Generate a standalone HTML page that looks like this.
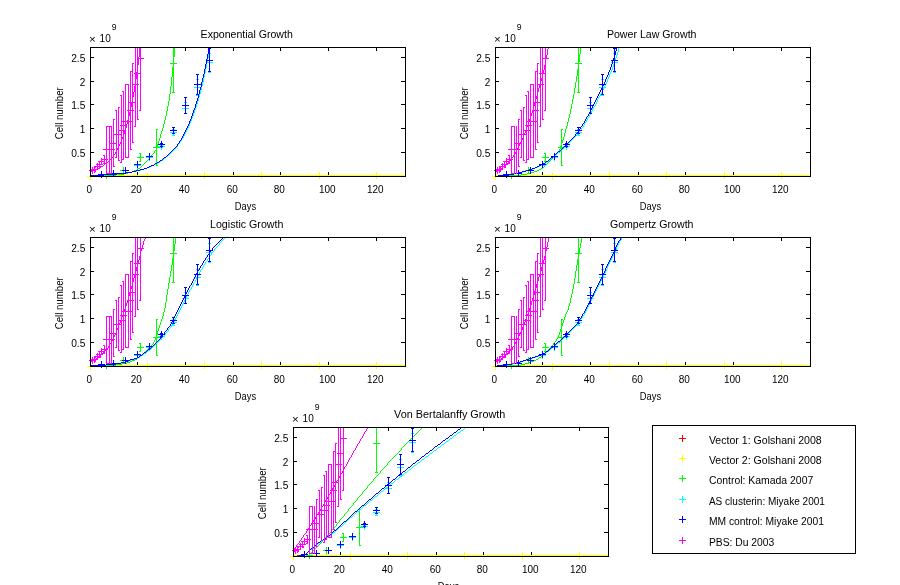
<!DOCTYPE html>
<html><head><meta charset="utf-8"><title>Tumour growth model fits</title>
<style>
html,body{margin:0;padding:0;background:#fff;}
svg{display:block;}
text{font-family:"Liberation Sans",sans-serif;font-size:10px;fill:#000;}
path{shape-rendering:crispEdges;fill:none;stroke-width:1;}
</style></head><body>
<svg width="900" height="585" viewBox="0 0 900 585">
<rect x="0" y="0" width="900" height="585" fill="#fff"/>
<g>
<text x="200.6" y="38.0" textLength="92.2" lengthAdjust="spacingAndGlyphs">Exponential Growth</text>
<text x="234.8" y="209.5" textLength="21.3" lengthAdjust="spacingAndGlyphs">Days</text>
<text transform="translate(63,139.35) rotate(-90)" textLength="52.1" lengthAdjust="spacingAndGlyphs">Cell number</text>
<text x="89" y="43.1" style="font-size:11.5px">×</text>
<text x="99.6" y="42.4">10</text>
<text x="111.8" y="30" style="font-size:8.6px">9</text>
<path stroke="#000" d="M90.5 172v4M90.5 48v3"/>
<text x="89.3" y="193.0" text-anchor="middle">0</text>
<path stroke="#000" d="M137.5 172v4M137.5 48v3"/>
<text x="136.3" y="193.0" text-anchor="middle">20</text>
<path stroke="#000" d="M185.5 172v4M185.5 48v3"/>
<text x="184.3" y="193.0" text-anchor="middle">40</text>
<path stroke="#000" d="M233.5 172v4M233.5 48v3"/>
<text x="232.3" y="193.0" text-anchor="middle">60</text>
<path stroke="#000" d="M280.5 172v4M280.5 48v3"/>
<text x="279.3" y="193.0" text-anchor="middle">80</text>
<path stroke="#000" d="M328.5 172v4M328.5 48v3"/>
<text x="327.3" y="193.0" text-anchor="middle">100</text>
<path stroke="#000" d="M376.5 172v4M376.5 48v3"/>
<text x="375.3" y="193.0" text-anchor="middle">120</text>
<path stroke="#000" d="M91 152.5h3M401 152.5h4"/>
<text x="71.2" y="156.9" textLength="14.2" lengthAdjust="spacingAndGlyphs">0.5</text>
<path stroke="#000" d="M91 128.5h3M401 128.5h4"/>
<text x="79.84" y="132.9">1</text>
<path stroke="#000" d="M91 104.5h3M401 104.5h4"/>
<text x="71.2" y="108.9" textLength="14.2" lengthAdjust="spacingAndGlyphs">1.5</text>
<path stroke="#000" d="M91 81.5h3M401 81.5h4"/>
<text x="79.84" y="85.9">2</text>
<path stroke="#000" d="M91 57.5h3M401 57.5h4"/>
<text x="71.2" y="61.9" textLength="14.2" lengthAdjust="spacingAndGlyphs">2.5</text>
<path stroke="#ffff00" d="M90 175.5h316M87 176.5h7M90.5 173v7M144 176.5h7M147.5 173v7M201 175.5h7M204.5 172v7M258 175.5h7M261.5 172v7M316 175.5h7M319.5 172v7M373 175.5h7M376.5 172v7"/>
<path stroke="#ff0000" d="M94 175.5h2"/>
<path stroke="#00ff00" d="M90 176.5h7M97 175.5h19M116 174.5h8M124 173.5h4M128 172.5h4M132 171.5h2M134 170.5h3M137 169.5h1M138 168.5h2M140 167.5h1M141 166.5h1M142 165.5h1M143 164.5h1M144 163.5h1M145 162.5h1M146 161.5h1M147 160.5h1M148 159.5h1M149 158.5h1M150 157.5h1M151.5 155v2M152 154.5h1M153 153.5h1M154.5 151v2M155 150.5h1M156.5 147v3M157.5 144v3M158.5 141v3M159.5 138v3M160.5 134v4M161.5 131v3M162.5 128v3M163.5 124v4M164.5 120v4M165.5 116v4M166.5 111v5M167.5 106v5M168.5 101v5M169.5 94v7M170.5 86v8M171.5 77v9M172.5 67v10M173.5 57v10M174.5 47v10M103 175.5h7M106.5 172v7M120 170.5h7M123.5 167v7M140.5 153v9M139 153.5h2M139 161.5h2M137 157.5h7M140.5 154v7M156.5 129v37M156 129.5h2M156 165.5h2M153 147.5h7M156.5 144v7M173.5 47v46M172 92.5h3M170 63.5h7M173.5 60v7"/>
<path stroke="#00ffff" d="M90 175.5h15M105 174.5h13M118 173.5h8M126 172.5h6M132 171.5h5M137 170.5h4M141 169.5h3M144 168.5h3M147 167.5h3M150 166.5h2M152 165.5h2M154 164.5h2M156 163.5h2M158 162.5h2M160 161.5h1M161 160.5h2M163 159.5h1M164 158.5h1M165 157.5h1M166 156.5h2M168 155.5h1M169 154.5h1M170 153.5h1M171 152.5h1M172 151.5h1M173 150.5h1M174 149.5h1M175 148.5h1M176 147.5h1M177.5 145v2M178 144.5h1M179.5 142v2M180 141.5h1M181.5 139v2M182 138.5h1M183.5 136v2M184.5 134v2M185.5 132v2M186.5 130v2M187.5 128v2M188.5 126v2M189.5 123v3M190.5 121v2M191.5 118v3M192.5 116v2M193.5 113v3M194.5 110v3M195.5 107v3M196.5 104v3M197.5 101v3M198.5 97v4M199.5 94v3M200.5 90v4M201.5 86v4M202.5 82v4M203.5 77v5M204.5 73v4M205.5 68v5M206.5 63v5M207.5 58v5M208.5 53v5M209.5 47v6M98 174.5h7M101.5 171v7M110 173.5h7M113.5 170v7M122 170.5h7M125.5 167v7M134 165.5h7M137.5 162v7M146 157.5h7M149.5 154v7M161.5 145v3M160 145.5h3M160 147.5h3M158 146.5h7M161.5 143v7M173.5 129v7M172 129.5h3M172 135.5h3M170 132.5h7M173.5 129v7M185.5 102v12M184 102.5h3M184 113.5h3M182 108.5h7M185.5 105v7M197.5 79v17M196 79.5h3M196 95.5h3M194 87.5h7M197.5 84v7M209.5 53v20M208 53.5h3M208 72.5h3M206 62.5h7M209.5 59v7"/>
<path stroke="#0000ff" d="M90 175.5h14M104 174.5h13M117 173.5h8M125 172.5h7M132 171.5h4M136 170.5h4M140 169.5h4M144 168.5h3M147 167.5h2M149 166.5h2M151 165.5h3M154 164.5h1M155 163.5h2M157 162.5h2M159 161.5h1M160 160.5h2M162 159.5h1M163 158.5h1M164 157.5h2M166 156.5h1M167 155.5h1M168 154.5h1M169 153.5h1M170 152.5h1M171 151.5h1M172 150.5h1M173 149.5h1M174 148.5h1M175 147.5h1M176 146.5h1M177.5 144v2M178 143.5h1M179.5 141v2M180 140.5h1M181.5 138v2M182.5 136v2M183.5 134v2M184.5 132v2M185.5 130v2M186.5 128v2M187.5 126v2M188.5 124v2M189.5 121v3M190.5 119v2M191.5 116v3M192.5 113v3M193.5 110v3M194.5 108v2M195.5 104v4M196.5 101v3M197.5 98v3M198.5 94v4M199.5 90v4M200.5 87v3M201.5 82v5M202.5 78v4M203.5 74v4M204.5 69v5M205.5 64v5M206.5 59v5M207.5 54v5M208.5 48v6M209 47.5h1M98 174.5h7M101.5 171v7M110 173.5h7M113.5 170v7M122 170.5h7M125.5 167v7M134 164.5h7M137.5 161v7M146 156.5h7M149.5 153v7M161.5 143v4M160 143.5h3M160 146.5h3M158 144.5h7M161.5 141v7M173.5 127v7M172 127.5h3M172 133.5h3M170 130.5h7M173.5 127v7M185.5 97v17M184 97.5h3M184 113.5h3M182 105.5h7M185.5 102v7M197.5 74v21M196 74.5h3M196 94.5h3M194 84.5h7M197.5 81v7M209.5 48v24M208 48.5h3M208 71.5h3M206 60.5h7M209.5 57v7"/>
<path stroke="#ff00ff" d="M90 172.5h1M91 171.5h2M93 170.5h3M96 169.5h2M98 168.5h2M100 167.5h1M101 166.5h2M103 165.5h1M104 164.5h1M105 163.5h1M106 162.5h2M108 161.5h1M109 160.5h1M110 159.5h1M111 158.5h1M112 157.5h1M113.5 155v2M114 154.5h1M115.5 152v2M116.5 150v2M117.5 148v2M118.5 146v2M119.5 144v2M120.5 142v2M121.5 139v3M122.5 137v2M123.5 134v3M124.5 131v3M125.5 128v3M126.5 124v4M127.5 120v4M128.5 116v4M129.5 112v4M130.5 107v5M131.5 103v4M132.5 97v6M133.5 92v5M134.5 86v6M135.5 79v7M136.5 72v7M137.5 65v7M138.5 57v8M139.5 48v9M140 47.5h1M92.5 169v3M91 169.5h2M91 171.5h2M89 170.5h7M92.5 167v7M94.5 167v5M94 167.5h2M94 171.5h2M91 169.5h7M94.5 166v7M97.5 164v6M96 164.5h2M96 169.5h2M94 166.5h7M97.5 163v7M99.5 161v7M99 161.5h2M99 167.5h2M96 164.5h7M99.5 161v7M101.5 159v6M101 159.5h2M101 164.5h2M98 161.5h7M101.5 158v7M104.5 155v9M103 155.5h2M103 163.5h2M101 159.5h7M104.5 156v7M106.5 126v48M106 126.5h2M106 173.5h2M103 149.5h7M106.5 146v7M109.5 126v48M108 126.5h2M108 173.5h2M106 149.5h7M109.5 146v7M111.5 126v48M110 126.5h2M110 173.5h2M108 149.5h7M111.5 146v7M113.5 119v48M113 119.5h2M113 166.5h2M110 143.5h7M113.5 140v7M116.5 110v48M115 110.5h2M115 157.5h2M113 134.5h7M116.5 131v7M118.5 107v54M118 107.5h2M118 160.5h2M115 134.5h7M118.5 131v7M121.5 95v68M120 95.5h2M120 162.5h2M118 130.5h7M121.5 127v7M123.5 91v69M122 91.5h2M122 159.5h2M120 125.5h7M123.5 122v7M125.5 84v74M125 84.5h2M125 157.5h2M122 121.5h7M125.5 118v7M128.5 84v74M127 84.5h2M127 157.5h2M125 121.5h7M128.5 118v7M130.5 71v79M130 71.5h2M130 149.5h2M127 110.5h7M130.5 107v7M132.5 63v80M132 63.5h2M132 142.5h2M129 102.5h7M132.5 99v7M135.5 47v80M134 126.5h2M132 84.5h7M135.5 81v7M137.5 47v73M137 119.5h2M134 73.5h7M137.5 70v7M140.5 47v64M139 110.5h2M137 58.5h7M140.5 55v7"/>
<path stroke="#000" d="M90 47.5h316M90 176.5h316M90.5 47v130M405.5 47v130"/>
</g>
<g>
<text x="606.9" y="38.0" textLength="89.6" lengthAdjust="spacingAndGlyphs">Power Law Growth</text>
<text x="639.8" y="209.5" textLength="21.3" lengthAdjust="spacingAndGlyphs">Days</text>
<text transform="translate(468,139.35) rotate(-90)" textLength="52.1" lengthAdjust="spacingAndGlyphs">Cell number</text>
<text x="494" y="43.1" style="font-size:11.5px">×</text>
<text x="504.6" y="42.4">10</text>
<text x="516.8" y="30" style="font-size:8.6px">9</text>
<path stroke="#000" d="M495.5 172v4M495.5 48v3"/>
<text x="494.3" y="193.0" text-anchor="middle">0</text>
<path stroke="#000" d="M542.5 172v4M542.5 48v3"/>
<text x="541.3" y="193.0" text-anchor="middle">20</text>
<path stroke="#000" d="M590.5 172v4M590.5 48v3"/>
<text x="589.3" y="193.0" text-anchor="middle">40</text>
<path stroke="#000" d="M638.5 172v4M638.5 48v3"/>
<text x="637.3" y="193.0" text-anchor="middle">60</text>
<path stroke="#000" d="M685.5 172v4M685.5 48v3"/>
<text x="684.3" y="193.0" text-anchor="middle">80</text>
<path stroke="#000" d="M733.5 172v4M733.5 48v3"/>
<text x="732.3" y="193.0" text-anchor="middle">100</text>
<path stroke="#000" d="M781.5 172v4M781.5 48v3"/>
<text x="780.3" y="193.0" text-anchor="middle">120</text>
<path stroke="#000" d="M496 152.5h3M806 152.5h4"/>
<text x="476.2" y="156.9" textLength="14.2" lengthAdjust="spacingAndGlyphs">0.5</text>
<path stroke="#000" d="M496 128.5h3M806 128.5h4"/>
<text x="484.84" y="132.9">1</text>
<path stroke="#000" d="M496 104.5h3M806 104.5h4"/>
<text x="476.2" y="108.9" textLength="14.2" lengthAdjust="spacingAndGlyphs">1.5</text>
<path stroke="#000" d="M496 81.5h3M806 81.5h4"/>
<text x="484.84" y="85.9">2</text>
<path stroke="#000" d="M496 57.5h3M806 57.5h4"/>
<text x="476.2" y="61.9" textLength="14.2" lengthAdjust="spacingAndGlyphs">2.5</text>
<path stroke="#ffff00" d="M495 175.5h316M492 176.5h7M495.5 173v7M549 176.5h7M552.5 173v7M606 175.5h7M609.5 172v7M663 175.5h7M666.5 172v7M721 175.5h7M724.5 172v7M778 175.5h7M781.5 172v7"/>
<path stroke="#ff0000" d="M499 175.5h2"/>
<path stroke="#00ff00" d="M495 176.5h12M507 175.5h14M521 174.5h6M527 173.5h4M531 172.5h3M534 171.5h3M537 170.5h2M539 169.5h2M541 168.5h1M542 167.5h2M544 166.5h1M545 165.5h1M546 164.5h1M547 163.5h1M548 162.5h1M549 161.5h1M550 160.5h1M551 159.5h1M552 158.5h1M553 157.5h1M554 156.5h1M555 155.5h1M556 154.5h1M557 153.5h1M558.5 151v2M559.5 149v2M560.5 146v3M561.5 143v3M562.5 140v3M563.5 137v3M564.5 133v4M565.5 129v4M566.5 126v3M567.5 122v4M568.5 118v4M569.5 114v4M570.5 109v5M571.5 104v5M572.5 99v5M573.5 94v5M574.5 88v6M575.5 82v6M576.5 76v6M577.5 69v7M578.5 62v7M579.5 54v8M580.5 47v7M508 175.5h7M511.5 172v7M525 170.5h7M528.5 167v7M545.5 153v9M544 153.5h2M544 161.5h2M542 157.5h7M545.5 154v7M561.5 129v37M561 129.5h2M561 165.5h2M558 147.5h7M561.5 144v7M578.5 47v46M577 92.5h3M575 63.5h7M578.5 60v7"/>
<path stroke="#00ffff" d="M495 176.5h3M498 175.5h11M509 174.5h5M514 173.5h4M518 172.5h5M523 171.5h3M526 170.5h4M530 169.5h3M533 168.5h2M535 167.5h3M538 166.5h2M540 165.5h2M542 164.5h2M544 163.5h2M546 162.5h1M547 161.5h2M549 160.5h1M550 159.5h1M551 158.5h1M552 157.5h2M554 156.5h1M555 155.5h1M556 154.5h1M557 153.5h1M558 152.5h2M560 151.5h1M561 150.5h1M562 149.5h1M563 148.5h1M564 147.5h1M565 146.5h1M566 145.5h1M567 144.5h1M568 143.5h1M569 142.5h1M570 141.5h1M571 140.5h1M572 139.5h1M573 138.5h1M574 137.5h1M575 136.5h1M576 135.5h1M577 134.5h1M578.5 132v2M579 131.5h1M580 130.5h1M581.5 128v2M582 127.5h1M583.5 125v2M584.5 123v2M585 122.5h1M586.5 120v2M587.5 118v2M588 117.5h1M589.5 115v2M590.5 113v2M591.5 111v2M592.5 109v2M593.5 107v2M594 106.5h1M595.5 104v2M596.5 102v2M597.5 99v3M598.5 97v2M599 96.5h1M600.5 94v2M601.5 92v2M602.5 90v2M603.5 88v2M604.5 86v2M605.5 84v2M606.5 82v2M607.5 79v3M608.5 77v2M609.5 74v3M610.5 72v2M611.5 70v2M612.5 67v3M613.5 64v3M614.5 61v3M615.5 58v3M616.5 55v3M617.5 52v3M618.5 48v4M619 47.5h1M503 174.5h7M506.5 171v7M515 173.5h7M518.5 170v7M527 170.5h7M530.5 167v7M539 165.5h7M542.5 162v7M551 157.5h7M554.5 154v7M566.5 145v3M565 145.5h3M565 147.5h3M563 146.5h7M566.5 143v7M578.5 129v7M577 129.5h3M577 135.5h3M575 132.5h7M578.5 129v7M590.5 102v12M589 102.5h3M589 113.5h3M587 108.5h7M590.5 105v7M602.5 79v17M601 79.5h3M601 95.5h3M599 87.5h7M602.5 84v7M614.5 53v20M613 53.5h3M613 72.5h3M611 62.5h7M614.5 59v7"/>
<path stroke="#0000ff" d="M495 176.5h3M498 175.5h11M509 174.5h5M514 173.5h4M518 172.5h4M522 171.5h4M526 170.5h3M529 169.5h3M532 168.5h3M535 167.5h2M537 166.5h2M539 165.5h2M541 164.5h2M543 163.5h2M545 162.5h1M546 161.5h2M548 160.5h1M549 159.5h1M550 158.5h1M551 157.5h2M553 156.5h1M554 155.5h1M555 154.5h1M556 153.5h1M557 152.5h1M558 151.5h2M560 150.5h1M561 149.5h1M562 148.5h1M563 147.5h1M564 146.5h1M565 145.5h1M566 144.5h1M567 143.5h1M568 142.5h1M569 141.5h1M570 140.5h1M571 139.5h1M572 138.5h1M573 137.5h1M574 136.5h1M575.5 134v2M576 133.5h1M577 132.5h1M578.5 130v2M579 129.5h1M580.5 127v2M581 126.5h1M582.5 124v2M583 123.5h1M584.5 121v2M585.5 119v2M586.5 117v2M587 116.5h1M588.5 114v2M589.5 112v2M590.5 110v2M591.5 108v2M592.5 106v2M593.5 104v2M594.5 102v2M595.5 100v2M596.5 98v2M597.5 96v2M598.5 94v2M599.5 92v2M600.5 90v2M601.5 88v2M602.5 86v2M603.5 84v2M604.5 82v2M605.5 79v3M606.5 77v2M607.5 75v2M608.5 72v3M609.5 70v2M610.5 67v3M611.5 64v3M612.5 61v3M613.5 58v3M614.5 55v3M615.5 51v4M616.5 48v3M617 47.5h1M503 174.5h7M506.5 171v7M515 173.5h7M518.5 170v7M527 170.5h7M530.5 167v7M539 164.5h7M542.5 161v7M551 156.5h7M554.5 153v7M566.5 143v4M565 143.5h3M565 146.5h3M563 144.5h7M566.5 141v7M578.5 127v7M577 127.5h3M577 133.5h3M575 130.5h7M578.5 127v7M590.5 97v17M589 97.5h3M589 113.5h3M587 105.5h7M590.5 102v7M602.5 74v21M601 74.5h3M601 94.5h3M599 84.5h7M602.5 81v7M614.5 48v24M613 48.5h3M613 71.5h3M611 60.5h7M614.5 57v7"/>
<path stroke="#ff00ff" d="M495 171.5h1M496 170.5h2M498 169.5h2M500 168.5h2M502 167.5h1M503 166.5h1M504 165.5h2M506 164.5h1M507 163.5h1M508 162.5h1M509 161.5h1M510 160.5h1M511.5 158v2M512 157.5h1M513.5 155v2M514 154.5h1M515.5 152v2M516.5 150v2M517.5 148v2M518.5 146v2M519.5 144v2M520.5 142v2M521.5 140v2M522.5 138v2M523.5 135v3M524.5 133v2M525.5 130v3M526.5 127v3M527.5 125v2M528.5 122v3M529.5 119v3M530.5 116v3M531.5 113v3M532.5 110v3M533.5 106v4M534.5 103v3M535.5 99v4M536.5 96v3M537.5 92v4M538.5 88v4M539.5 85v3M540.5 81v4M541.5 78v3M542.5 74v4M543.5 70v4M544.5 65v5M545.5 59v6M546.5 55v4M547.5 49v6M548.5 47v2M497.5 169v3M496 169.5h2M496 171.5h2M494 170.5h7M497.5 167v7M499.5 167v5M499 167.5h2M499 171.5h2M496 169.5h7M499.5 166v7M502.5 164v6M501 164.5h2M501 169.5h2M499 166.5h7M502.5 163v7M504.5 161v7M504 161.5h2M504 167.5h2M501 164.5h7M504.5 161v7M506.5 159v6M506 159.5h2M506 164.5h2M503 161.5h7M506.5 158v7M509.5 155v9M508 155.5h2M508 163.5h2M506 159.5h7M509.5 156v7M511.5 126v48M511 126.5h2M511 173.5h2M508 149.5h7M511.5 146v7M514.5 126v48M513 126.5h2M513 173.5h2M511 149.5h7M514.5 146v7M516.5 126v48M516 126.5h1M516 173.5h1M513 149.5h7M516.5 146v7M518.5 119v48M518 119.5h2M518 166.5h2M515 143.5h7M518.5 140v7M521.5 110v48M520 110.5h2M520 157.5h2M518 134.5h7M521.5 131v7M523.5 107v54M523 107.5h2M523 160.5h2M520 134.5h7M523.5 131v7M526.5 95v68M525 95.5h2M525 162.5h2M523 130.5h7M526.5 127v7M528.5 91v69M527 91.5h2M527 159.5h2M525 125.5h7M528.5 122v7M530.5 84v74M530 84.5h2M530 157.5h2M527 121.5h7M530.5 118v7M533.5 84v74M532 84.5h2M532 157.5h2M530 121.5h7M533.5 118v7M535.5 71v79M535 71.5h2M535 149.5h2M532 110.5h7M535.5 107v7M537.5 63v80M537 63.5h2M537 142.5h2M534 102.5h7M537.5 99v7M540.5 47v80M539 126.5h2M537 84.5h7M540.5 81v7M542.5 47v73M542 119.5h2M539 73.5h7M542.5 70v7M545.5 47v64M544 110.5h2M542 58.5h7M545.5 55v7"/>
<path stroke="#000" d="M495 47.5h316M495 176.5h316M495.5 47v130M810.5 47v130"/>
</g>
<g>
<text x="210.0" y="228.0" textLength="73.4" lengthAdjust="spacingAndGlyphs">Logistic Growth</text>
<text x="234.8" y="399.5" textLength="21.3" lengthAdjust="spacingAndGlyphs">Days</text>
<text transform="translate(63,329.35) rotate(-90)" textLength="52.1" lengthAdjust="spacingAndGlyphs">Cell number</text>
<text x="89" y="233.1" style="font-size:11.5px">×</text>
<text x="99.6" y="232.4">10</text>
<text x="111.8" y="220" style="font-size:8.6px">9</text>
<path stroke="#000" d="M90.5 362v4M90.5 238v3"/>
<text x="89.3" y="383.0" text-anchor="middle">0</text>
<path stroke="#000" d="M137.5 362v4M137.5 238v3"/>
<text x="136.3" y="383.0" text-anchor="middle">20</text>
<path stroke="#000" d="M185.5 362v4M185.5 238v3"/>
<text x="184.3" y="383.0" text-anchor="middle">40</text>
<path stroke="#000" d="M233.5 362v4M233.5 238v3"/>
<text x="232.3" y="383.0" text-anchor="middle">60</text>
<path stroke="#000" d="M280.5 362v4M280.5 238v3"/>
<text x="279.3" y="383.0" text-anchor="middle">80</text>
<path stroke="#000" d="M328.5 362v4M328.5 238v3"/>
<text x="327.3" y="383.0" text-anchor="middle">100</text>
<path stroke="#000" d="M376.5 362v4M376.5 238v3"/>
<text x="375.3" y="383.0" text-anchor="middle">120</text>
<path stroke="#000" d="M91 342.5h3M401 342.5h4"/>
<text x="71.2" y="346.9" textLength="14.2" lengthAdjust="spacingAndGlyphs">0.5</text>
<path stroke="#000" d="M91 318.5h3M401 318.5h4"/>
<text x="79.84" y="322.9">1</text>
<path stroke="#000" d="M91 294.5h3M401 294.5h4"/>
<text x="71.2" y="298.9" textLength="14.2" lengthAdjust="spacingAndGlyphs">1.5</text>
<path stroke="#000" d="M91 271.5h3M401 271.5h4"/>
<text x="79.84" y="275.9">2</text>
<path stroke="#000" d="M91 247.5h3M401 247.5h4"/>
<text x="71.2" y="251.9" textLength="14.2" lengthAdjust="spacingAndGlyphs">2.5</text>
<path stroke="#ffff00" d="M90 365.5h316M87 366.5h7M90.5 363v7M144 366.5h7M147.5 363v7M201 365.5h7M204.5 362v7M258 365.5h7M261.5 362v7M316 365.5h7M319.5 362v7M373 365.5h7M376.5 362v7"/>
<path stroke="#ff0000" d="M94 365.5h2"/>
<path stroke="#00ff00" d="M90 366.5h12M102 365.5h14M116 364.5h6M122 363.5h5M127 362.5h3M130 361.5h2M132 360.5h3M135 359.5h2M137 358.5h1M138 357.5h2M140 356.5h1M141 355.5h1M142 354.5h1M143 353.5h1M144 352.5h1M145 351.5h1M146 350.5h1M147 349.5h1M148 348.5h1M149 347.5h1M150 346.5h1M151 345.5h1M152 344.5h1M153.5 342v2M154.5 340v2M155.5 337v3M156.5 335v2M157.5 331v4M158.5 328v3M159.5 325v3M160.5 322v3M161.5 319v3M162.5 316v3M163.5 312v4M164.5 308v4M165.5 302v6M166.5 295v7M167.5 289v6M168.5 283v6M169.5 277v6M170.5 271v6M171.5 265v6M172.5 258v7M173.5 251v7M174.5 244v7M175.5 237v7M103 365.5h7M106.5 362v7M120 360.5h7M123.5 357v7M140.5 343v9M139 343.5h2M139 351.5h2M137 347.5h7M140.5 344v7M156.5 319v37M156 319.5h2M156 355.5h2M153 337.5h7M156.5 334v7M173.5 237v46M172 282.5h3M170 253.5h7M173.5 250v7"/>
<path stroke="#00ffff" d="M90 365.5h17M107 364.5h10M117 363.5h5M122 362.5h4M126 361.5h3M129 360.5h2M131 359.5h4M135 358.5h3M138 357.5h2M140 356.5h1M141 355.5h2M143 354.5h1M144 353.5h2M146 352.5h1M147 351.5h1M148 350.5h2M150 349.5h1M151 348.5h1M152 347.5h1M153 346.5h1M154 345.5h1M155 344.5h1M156 343.5h1M157 342.5h1M158 341.5h1M159 340.5h1M160 339.5h1M161 338.5h1M162 337.5h1M163 336.5h1M164 335.5h1M165.5 333v2M166 332.5h1M167 331.5h1M168.5 329v2M169 328.5h1M170 327.5h1M171.5 325v2M172 324.5h1M173.5 322v2M174.5 320v2M175.5 318v2M176.5 316v2M177.5 314v2M178.5 312v2M179.5 310v2M180.5 308v2M181.5 306v2M182.5 304v2M183.5 302v2M184.5 300v2M185.5 298v2M186.5 296v2M187.5 294v2M188.5 292v2M189.5 290v2M190 289.5h1M191.5 287v2M192.5 285v2M193.5 283v2M194 282.5h1M195.5 280v2M196.5 278v2M197.5 276v2M198.5 274v2M199.5 272v2M200.5 270v2M201 269.5h1M202.5 267v2M203.5 265v2M204 264.5h1M205.5 262v2M206 261.5h1M207.5 259v2M208 258.5h1M209.5 256v2M210 255.5h1M211.5 253v2M212 252.5h1M213 251.5h1M214.5 249v2M215 248.5h1M216 247.5h1M217 246.5h1M218 245.5h1M219.5 243v2M220 242.5h1M221 241.5h1M222 240.5h1M223 239.5h1M224 238.5h1M225 237.5h1M98 364.5h7M101.5 361v7M110 363.5h7M113.5 360v7M122 360.5h7M125.5 357v7M134 355.5h7M137.5 352v7M146 347.5h7M149.5 344v7M161.5 335v3M160 335.5h3M160 337.5h3M158 336.5h7M161.5 333v7M173.5 319v7M172 319.5h3M172 325.5h3M170 322.5h7M173.5 319v7M185.5 292v12M184 292.5h3M184 303.5h3M182 298.5h7M185.5 295v7M197.5 269v17M196 269.5h3M196 285.5h3M194 277.5h7M197.5 274v7M209.5 243v20M208 243.5h3M208 262.5h3M206 252.5h7M209.5 249v7"/>
<path stroke="#0000ff" d="M90 365.5h16M106 364.5h10M116 363.5h5M121 362.5h4M125 361.5h3M128 360.5h2M130 359.5h4M134 358.5h3M137 357.5h2M139 356.5h1M140 355.5h2M142 354.5h1M143 353.5h1M144 352.5h2M146 351.5h1M147 350.5h1M148 349.5h1M149 348.5h2M151 347.5h1M152 346.5h1M153 345.5h1M154 344.5h1M155 343.5h1M156 342.5h1M157 341.5h1M158 340.5h1M159 339.5h1M160.5 337v2M161 336.5h1M162 335.5h1M163 334.5h1M164.5 332v2M165 331.5h1M166 330.5h1M167.5 328v2M168 327.5h1M169 326.5h1M170.5 324v2M171.5 322v2M172.5 320v2M173.5 318v2M174.5 316v2M175.5 314v2M176.5 312v2M177.5 310v2M178.5 308v2M179.5 306v2M180.5 304v2M181.5 302v2M182.5 300v2M183.5 298v2M184.5 296v2M185.5 294v2M186.5 292v2M187.5 290v2M188.5 288v2M189.5 286v2M190 285.5h1M191.5 283v2M192.5 281v2M193.5 279v2M194.5 277v2M195.5 275v2M196.5 273v2M197.5 271v2M198 270.5h1M199.5 268v2M200.5 266v2M201 265.5h1M202.5 263v2M203.5 261v2M204 260.5h1M205.5 258v2M206 257.5h1M207.5 255v2M208 254.5h1M209.5 252v2M210 251.5h1M211 250.5h1M212.5 248v2M213 247.5h1M214 246.5h1M215 245.5h1M216 244.5h1M217 243.5h1M218 242.5h1M219 241.5h1M220 240.5h1M221 239.5h1M222 238.5h1M223 237.5h1M98 364.5h7M101.5 361v7M110 363.5h7M113.5 360v7M122 360.5h7M125.5 357v7M134 354.5h7M137.5 351v7M146 346.5h7M149.5 343v7M161.5 333v4M160 333.5h3M160 336.5h3M158 334.5h7M161.5 331v7M173.5 317v7M172 317.5h3M172 323.5h3M170 320.5h7M173.5 317v7M185.5 287v17M184 287.5h3M184 303.5h3M182 295.5h7M185.5 292v7M197.5 264v21M196 264.5h3M196 284.5h3M194 274.5h7M197.5 271v7M209.5 238v24M208 238.5h3M208 261.5h3M206 250.5h7M209.5 247v7"/>
<path stroke="#ff00ff" d="M90 361.5h1M91 360.5h3M94 359.5h2M96 358.5h1M97 357.5h2M99 356.5h1M100 355.5h1M101 354.5h1M102 353.5h1M103 352.5h1M104 351.5h1M105 350.5h1M106 349.5h1M107 348.5h1M108.5 346v2M109.5 344v2M110 343.5h1M111.5 341v2M112.5 339v2M113.5 337v2M114.5 335v2M115.5 333v2M116.5 330v3M117.5 328v2M118.5 325v3M119.5 323v2M120.5 320v3M121.5 317v3M122.5 315v2M123.5 312v3M124.5 309v3M125.5 306v3M126.5 303v3M127.5 300v3M128.5 296v4M129.5 293v3M130.5 289v4M131.5 286v3M132.5 282v4M133.5 278v4M134.5 275v3M135.5 271v4M136.5 267v4M137.5 264v3M138.5 260v4M139.5 256v4M140.5 251v5M141.5 248v3M142.5 245v3M143.5 241v4M144.5 239v2M145.5 237v2M92.5 359v3M91 359.5h2M91 361.5h2M89 360.5h7M92.5 357v7M94.5 357v5M94 357.5h2M94 361.5h2M91 359.5h7M94.5 356v7M97.5 354v6M96 354.5h2M96 359.5h2M94 356.5h7M97.5 353v7M99.5 351v7M99 351.5h2M99 357.5h2M96 354.5h7M99.5 351v7M101.5 349v6M101 349.5h2M101 354.5h2M98 351.5h7M101.5 348v7M104.5 345v9M103 345.5h2M103 353.5h2M101 349.5h7M104.5 346v7M106.5 316v48M106 316.5h2M106 363.5h2M103 339.5h7M106.5 336v7M109.5 316v48M108 316.5h2M108 363.5h2M106 339.5h7M109.5 336v7M111.5 316v48M110 316.5h2M110 363.5h2M108 339.5h7M111.5 336v7M113.5 309v48M113 309.5h2M113 356.5h2M110 333.5h7M113.5 330v7M116.5 300v48M115 300.5h2M115 347.5h2M113 324.5h7M116.5 321v7M118.5 297v54M118 297.5h2M118 350.5h2M115 324.5h7M118.5 321v7M121.5 285v68M120 285.5h2M120 352.5h2M118 320.5h7M121.5 317v7M123.5 281v69M122 281.5h2M122 349.5h2M120 315.5h7M123.5 312v7M125.5 274v74M125 274.5h2M125 347.5h2M122 311.5h7M125.5 308v7M128.5 274v74M127 274.5h2M127 347.5h2M125 311.5h7M128.5 308v7M130.5 261v79M130 261.5h2M130 339.5h2M127 300.5h7M130.5 297v7M132.5 253v80M132 253.5h2M132 332.5h2M129 292.5h7M132.5 289v7M135.5 237v80M134 316.5h2M132 274.5h7M135.5 271v7M137.5 237v73M137 309.5h2M134 263.5h7M137.5 260v7M140.5 237v64M139 300.5h2M137 248.5h7M140.5 245v7"/>
<path stroke="#000" d="M90 237.5h316M90 366.5h316M90.5 237v130M405.5 237v130"/>
</g>
<g>
<text x="609.9" y="228.0" textLength="83.6" lengthAdjust="spacingAndGlyphs">Gompertz Growth</text>
<text x="639.8" y="399.5" textLength="21.3" lengthAdjust="spacingAndGlyphs">Days</text>
<text transform="translate(468,329.35) rotate(-90)" textLength="52.1" lengthAdjust="spacingAndGlyphs">Cell number</text>
<text x="494" y="233.1" style="font-size:11.5px">×</text>
<text x="504.6" y="232.4">10</text>
<text x="516.8" y="220" style="font-size:8.6px">9</text>
<path stroke="#000" d="M495.5 362v4M495.5 238v3"/>
<text x="494.3" y="383.0" text-anchor="middle">0</text>
<path stroke="#000" d="M542.5 362v4M542.5 238v3"/>
<text x="541.3" y="383.0" text-anchor="middle">20</text>
<path stroke="#000" d="M590.5 362v4M590.5 238v3"/>
<text x="589.3" y="383.0" text-anchor="middle">40</text>
<path stroke="#000" d="M638.5 362v4M638.5 238v3"/>
<text x="637.3" y="383.0" text-anchor="middle">60</text>
<path stroke="#000" d="M685.5 362v4M685.5 238v3"/>
<text x="684.3" y="383.0" text-anchor="middle">80</text>
<path stroke="#000" d="M733.5 362v4M733.5 238v3"/>
<text x="732.3" y="383.0" text-anchor="middle">100</text>
<path stroke="#000" d="M781.5 362v4M781.5 238v3"/>
<text x="780.3" y="383.0" text-anchor="middle">120</text>
<path stroke="#000" d="M496 342.5h3M806 342.5h4"/>
<text x="476.2" y="346.9" textLength="14.2" lengthAdjust="spacingAndGlyphs">0.5</text>
<path stroke="#000" d="M496 318.5h3M806 318.5h4"/>
<text x="484.84" y="322.9">1</text>
<path stroke="#000" d="M496 294.5h3M806 294.5h4"/>
<text x="476.2" y="298.9" textLength="14.2" lengthAdjust="spacingAndGlyphs">1.5</text>
<path stroke="#000" d="M496 271.5h3M806 271.5h4"/>
<text x="484.84" y="275.9">2</text>
<path stroke="#000" d="M496 247.5h3M806 247.5h4"/>
<text x="476.2" y="251.9" textLength="14.2" lengthAdjust="spacingAndGlyphs">2.5</text>
<path stroke="#ffff00" d="M495 365.5h316M492 366.5h7M495.5 363v7M549 366.5h7M552.5 363v7M606 365.5h7M609.5 362v7M663 365.5h7M666.5 362v7M721 365.5h7M724.5 362v7M778 365.5h7M781.5 362v7"/>
<path stroke="#ff0000" d="M499 365.5h2"/>
<path stroke="#00ff00" d="M495 366.5h15M510 365.5h11M521 364.5h4M525 363.5h3M528 362.5h3M531 361.5h3M534 360.5h2M536 359.5h2M538 358.5h1M539 357.5h2M541 356.5h1M542 355.5h1M543 354.5h1M544 353.5h1M545 352.5h1M546 351.5h1M547 350.5h1M548 349.5h1M549 348.5h1M550 347.5h1M551 346.5h1M552 345.5h1M553.5 343v2M554 342.5h1M555 341.5h1M556.5 339v2M557.5 337v2M558.5 335v2M559.5 332v3M560.5 329v3M561.5 326v3M562.5 323v3M563.5 320v3M564.5 317v3M565.5 314v3M566.5 312v2M567.5 310v2M568.5 306v4M569.5 303v3M570.5 298v5M571.5 294v4M572.5 289v5M573.5 284v5M574.5 278v6M575.5 271v7M576.5 265v6M577.5 259v6M578.5 253v6M579.5 248v5M580.5 243v5M581.5 238v5M582 237.5h1M508 365.5h7M511.5 362v7M525 360.5h7M528.5 357v7M545.5 343v9M544 343.5h2M544 351.5h2M542 347.5h7M545.5 344v7M561.5 319v37M561 319.5h2M561 355.5h2M558 337.5h7M561.5 334v7M578.5 237v46M577 282.5h3M575 253.5h7M578.5 250v7"/>
<path stroke="#00ffff" d="M495 366.5h3M498 365.5h10M508 364.5h5M513 363.5h4M517 362.5h4M521 361.5h3M524 360.5h3M527 359.5h3M530 358.5h3M533 357.5h3M536 356.5h3M539 355.5h3M542 354.5h2M544 353.5h2M546 352.5h1M547 351.5h2M549 350.5h1M550 349.5h1M551 348.5h1M552 347.5h2M554 346.5h1M555 345.5h1M556 344.5h1M557 343.5h1M558 342.5h2M560 341.5h1M561 340.5h1M562 339.5h1M563 338.5h1M564 337.5h1M565 336.5h1M566 335.5h1M567 334.5h1M568 333.5h1M569 332.5h1M570 331.5h1M571 330.5h1M572 329.5h1M573 328.5h1M574 327.5h1M575 326.5h1M576 325.5h1M577 324.5h1M578.5 322v2M579 321.5h1M580.5 319v2M581 318.5h1M582.5 316v2M583 315.5h1M584.5 313v2M585.5 311v2M586.5 309v2M587.5 307v2M588.5 305v2M589.5 303v2M590.5 301v2M591.5 299v2M592.5 297v2M593.5 295v2M594.5 293v2M595.5 291v2M596.5 289v2M597.5 287v2M598.5 285v2M599.5 283v2M600.5 281v2M601.5 279v2M602.5 277v2M603.5 275v2M604.5 273v2M605.5 271v2M606.5 269v2M607.5 266v3M608.5 264v2M609.5 262v2M610.5 260v2M611.5 258v2M612.5 256v2M613.5 254v2M614.5 252v2M615.5 250v2M616.5 247v3M617.5 245v2M618.5 243v2M619.5 241v2M620 240.5h1M621.5 238v2M622 237.5h1M503 364.5h7M506.5 361v7M515 363.5h7M518.5 360v7M527 360.5h7M530.5 357v7M539 355.5h7M542.5 352v7M551 347.5h7M554.5 344v7M566.5 335v3M565 335.5h3M565 337.5h3M563 336.5h7M566.5 333v7M578.5 319v7M577 319.5h3M577 325.5h3M575 322.5h7M578.5 319v7M590.5 292v12M589 292.5h3M589 303.5h3M587 298.5h7M590.5 295v7M602.5 269v17M601 269.5h3M601 285.5h3M599 277.5h7M602.5 274v7M614.5 243v20M613 243.5h3M613 262.5h3M611 252.5h7M614.5 249v7"/>
<path stroke="#0000ff" d="M495 366.5h2M497 365.5h10M507 364.5h5M512 363.5h4M516 362.5h4M520 361.5h3M523 360.5h3M526 359.5h3M529 358.5h3M532 357.5h3M535 356.5h3M538 355.5h3M541 354.5h2M543 353.5h2M545 352.5h1M546 351.5h2M548 350.5h1M549 349.5h1M550 348.5h1M551 347.5h2M553 346.5h1M554 345.5h1M555 344.5h1M556 343.5h1M557 342.5h1M558 341.5h2M560 340.5h1M561 339.5h1M562 338.5h1M563 337.5h1M564 336.5h1M565 335.5h1M566 334.5h1M567 333.5h1M568 332.5h1M569 331.5h1M570 330.5h1M571 329.5h1M572 328.5h1M573 327.5h1M574 326.5h1M575 325.5h1M576 324.5h1M577.5 322v2M578 321.5h1M579.5 319v2M580 318.5h1M581.5 316v2M582.5 314v2M583 313.5h1M584.5 311v2M585.5 309v2M586.5 307v2M587.5 305v2M588.5 303v2M589.5 301v2M590.5 299v2M591.5 297v2M592.5 295v2M593.5 293v2M594.5 291v2M595.5 289v2M596.5 287v2M597.5 285v2M598.5 283v2M599.5 281v2M600.5 279v2M601.5 277v2M602.5 275v2M603.5 273v2M604.5 271v2M605.5 268v3M606.5 266v2M607.5 264v2M608.5 262v2M609.5 260v2M610.5 258v2M611.5 256v2M612.5 254v2M613.5 252v2M614.5 250v2M615.5 247v3M616.5 245v2M617.5 243v2M618.5 241v2M619 240.5h1M620.5 238v2M621 237.5h1M503 364.5h7M506.5 361v7M515 363.5h7M518.5 360v7M527 360.5h7M530.5 357v7M539 354.5h7M542.5 351v7M551 346.5h7M554.5 343v7M566.5 333v4M565 333.5h3M565 336.5h3M563 334.5h7M566.5 331v7M578.5 317v7M577 317.5h3M577 323.5h3M575 320.5h7M578.5 317v7M590.5 287v17M589 287.5h3M589 303.5h3M587 295.5h7M590.5 292v7M602.5 264v21M601 264.5h3M601 284.5h3M599 274.5h7M602.5 271v7M614.5 238v24M613 238.5h3M613 261.5h3M611 250.5h7M614.5 247v7"/>
<path stroke="#ff00ff" d="M495 361.5h2M497 360.5h2M499 359.5h2M501 358.5h1M502 357.5h2M504 356.5h1M505 355.5h1M506 354.5h1M507 353.5h1M508 352.5h1M509 351.5h1M510 350.5h1M511 349.5h1M512.5 347v2M513 346.5h1M514.5 344v2M515.5 342v2M516.5 340v2M517.5 338v2M518.5 336v2M519.5 334v2M520.5 332v2M521.5 330v2M522.5 327v3M523.5 325v2M524.5 322v3M525.5 319v3M526.5 316v3M527.5 314v2M528.5 311v3M529.5 308v3M530.5 305v3M531.5 301v4M532.5 298v3M533.5 295v3M534.5 291v4M535.5 288v3M536.5 284v4M537.5 281v3M538.5 277v4M539.5 274v3M540.5 271v3M541.5 267v4M542.5 264v3M543.5 260v4M544.5 256v4M545.5 251v5M546.5 247v4M547.5 242v5M548.5 237v5M497.5 359v3M496 359.5h2M496 361.5h2M494 360.5h7M497.5 357v7M499.5 357v5M499 357.5h2M499 361.5h2M496 359.5h7M499.5 356v7M502.5 354v6M501 354.5h2M501 359.5h2M499 356.5h7M502.5 353v7M504.5 351v7M504 351.5h2M504 357.5h2M501 354.5h7M504.5 351v7M506.5 349v6M506 349.5h2M506 354.5h2M503 351.5h7M506.5 348v7M509.5 345v9M508 345.5h2M508 353.5h2M506 349.5h7M509.5 346v7M511.5 316v48M511 316.5h2M511 363.5h2M508 339.5h7M511.5 336v7M514.5 316v48M513 316.5h2M513 363.5h2M511 339.5h7M514.5 336v7M516.5 316v48M516 316.5h1M516 363.5h1M513 339.5h7M516.5 336v7M518.5 309v48M518 309.5h2M518 356.5h2M515 333.5h7M518.5 330v7M521.5 300v48M520 300.5h2M520 347.5h2M518 324.5h7M521.5 321v7M523.5 297v54M523 297.5h2M523 350.5h2M520 324.5h7M523.5 321v7M526.5 285v68M525 285.5h2M525 352.5h2M523 320.5h7M526.5 317v7M528.5 281v69M527 281.5h2M527 349.5h2M525 315.5h7M528.5 312v7M530.5 274v74M530 274.5h2M530 347.5h2M527 311.5h7M530.5 308v7M533.5 274v74M532 274.5h2M532 347.5h2M530 311.5h7M533.5 308v7M535.5 261v79M535 261.5h2M535 339.5h2M532 300.5h7M535.5 297v7M537.5 253v80M537 253.5h2M537 332.5h2M534 292.5h7M537.5 289v7M540.5 237v80M539 316.5h2M537 274.5h7M540.5 271v7M542.5 237v73M542 309.5h2M539 263.5h7M542.5 260v7M545.5 237v64M544 300.5h2M542 248.5h7M545.5 245v7"/>
<path stroke="#000" d="M495 237.5h316M495 366.5h316M495.5 237v130M810.5 237v130"/>
</g>
<g>
<text x="394.1" y="418.0" textLength="111.2" lengthAdjust="spacingAndGlyphs">Von Bertalanffy Growth</text>
<text x="437.8" y="589.5" textLength="21.3" lengthAdjust="spacingAndGlyphs">Days</text>
<text transform="translate(266,519.35) rotate(-90)" textLength="52.1" lengthAdjust="spacingAndGlyphs">Cell number</text>
<text x="292" y="423.1" style="font-size:11.5px">×</text>
<text x="302.6" y="422.4">10</text>
<text x="314.8" y="410" style="font-size:8.6px">9</text>
<path stroke="#000" d="M293.5 552v4M293.5 428v3"/>
<text x="292.3" y="573.0" text-anchor="middle">0</text>
<path stroke="#000" d="M340.5 552v4M340.5 428v3"/>
<text x="339.3" y="573.0" text-anchor="middle">20</text>
<path stroke="#000" d="M388.5 552v4M388.5 428v3"/>
<text x="387.3" y="573.0" text-anchor="middle">40</text>
<path stroke="#000" d="M436.5 552v4M436.5 428v3"/>
<text x="435.3" y="573.0" text-anchor="middle">60</text>
<path stroke="#000" d="M483.5 552v4M483.5 428v3"/>
<text x="482.3" y="573.0" text-anchor="middle">80</text>
<path stroke="#000" d="M531.5 552v4M531.5 428v3"/>
<text x="530.3" y="573.0" text-anchor="middle">100</text>
<path stroke="#000" d="M579.5 552v4M579.5 428v3"/>
<text x="578.3" y="573.0" text-anchor="middle">120</text>
<path stroke="#000" d="M294 532.5h3M604 532.5h4"/>
<text x="274.2" y="536.9" textLength="14.2" lengthAdjust="spacingAndGlyphs">0.5</text>
<path stroke="#000" d="M294 508.5h3M604 508.5h4"/>
<text x="282.84" y="512.9">1</text>
<path stroke="#000" d="M294 484.5h3M604 484.5h4"/>
<text x="274.2" y="488.9" textLength="14.2" lengthAdjust="spacingAndGlyphs">1.5</text>
<path stroke="#000" d="M294 461.5h3M604 461.5h4"/>
<text x="282.84" y="465.9">2</text>
<path stroke="#000" d="M294 437.5h3M604 437.5h4"/>
<text x="274.2" y="441.9" textLength="14.2" lengthAdjust="spacingAndGlyphs">2.5</text>
<path stroke="#ffff00" d="M293 555.5h316M290 556.5h7M293.5 553v7M347 556.5h7M350.5 553v7M404 555.5h7M407.5 552v7M461 555.5h7M464.5 552v7M519 555.5h7M522.5 552v7M576 555.5h7M579.5 552v7"/>
<path stroke="#ff0000" d="M297 555.5h2"/>
<path stroke="#00ff00" d="M293 556.5h15M308 555.5h1M309 554.5h1M310 553.5h1M311 552.5h1M312 551.5h1M313 550.5h1M314 549.5h1M315 548.5h1M316 547.5h1M317 546.5h1M318 545.5h1M319 544.5h1M320 543.5h1M321 542.5h1M322.5 540v2M323 539.5h1M324 538.5h1M325 537.5h1M326 536.5h1M327 535.5h1M328 534.5h1M329 533.5h1M330 532.5h1M331.5 530v2M332 529.5h1M333 528.5h1M334 527.5h1M335 526.5h1M336.5 524v2M337 523.5h1M338 522.5h1M339.5 520v2M340 519.5h1M341 518.5h1M342 517.5h1M343 516.5h1M344.5 514v2M345 513.5h1M346 512.5h1M347 511.5h1M348.5 509v2M349 508.5h1M350 507.5h1M351 506.5h1M352 505.5h1M353.5 503v2M354 502.5h1M355 501.5h1M356 500.5h1M357.5 498v2M358 497.5h1M359 496.5h1M360 495.5h1M361 494.5h1M362.5 492v2M363 491.5h1M364 490.5h1M365 489.5h1M366 488.5h1M367.5 486v2M368 485.5h1M369 484.5h1M370 483.5h1M371 482.5h1M372 481.5h1M373.5 479v2M374 478.5h1M375 477.5h1M376 476.5h1M377 475.5h1M378 474.5h1M379 473.5h1M380.5 471v2M381 470.5h1M382 469.5h1M383 468.5h1M384 467.5h1M385 466.5h1M386 465.5h1M387.5 463v2M388 462.5h1M389 461.5h1M390 460.5h1M391 459.5h1M392 458.5h1M393 457.5h1M394 456.5h1M395 455.5h1M396 454.5h1M397 453.5h1M398 452.5h1M399 451.5h1M400 450.5h1M401.5 448v2M402 447.5h1M403 446.5h1M404 445.5h1M405 444.5h1M406 443.5h1M407 442.5h1M408 441.5h1M409 440.5h1M410 439.5h1M411 438.5h1M412 437.5h1M413 436.5h1M414 435.5h1M415 434.5h1M416 433.5h1M417 432.5h1M418 431.5h1M419 430.5h1M420 429.5h1M421 428.5h1M422 427.5h1M306 555.5h7M309.5 552v7M323 550.5h7M326.5 547v7M343.5 533v9M342 533.5h2M342 541.5h2M340 537.5h7M343.5 534v7M359.5 509v37M359 509.5h2M359 545.5h2M356 527.5h7M359.5 524v7M376.5 427v46M375 472.5h3M373 443.5h7M376.5 440v7"/>
<path stroke="#00ffff" d="M293 556.5h6M299 555.5h6M305 554.5h1M306 553.5h1M307 552.5h1M308 551.5h1M309 550.5h1M310 549.5h2M312 548.5h2M314 547.5h1M315 546.5h1M316 545.5h1M317 544.5h1M318 543.5h1M319 542.5h2M321 541.5h1M322 540.5h2M324 539.5h2M326 538.5h1M327 537.5h1M328 536.5h2M330 535.5h1M331 534.5h1M332 533.5h1M333 532.5h2M335 531.5h1M336 530.5h1M337 529.5h1M338 528.5h1M339 527.5h1M340 526.5h2M342 525.5h1M343 524.5h1M344 523.5h1M345 522.5h1M346 521.5h1M347 520.5h1M348 519.5h1M349 518.5h1M350 517.5h2M352 516.5h1M353 515.5h1M354 514.5h1M355 513.5h1M356 512.5h1M357 511.5h2M359 510.5h1M360 509.5h1M361 508.5h1M362 507.5h1M363 506.5h1M364 505.5h2M366 504.5h1M367 503.5h1M368 502.5h1M369 501.5h1M370 500.5h2M372 499.5h1M373 498.5h1M374 497.5h1M375 496.5h2M377 495.5h1M378 494.5h1M379 493.5h1M380 492.5h1M381 491.5h2M383 490.5h1M384 489.5h1M385 488.5h1M386 487.5h2M388 486.5h1M389 485.5h1M390 484.5h1M391 483.5h2M393 482.5h1M394 481.5h1M395 480.5h1M396 479.5h2M398 478.5h1M399 477.5h1M400 476.5h2M402 475.5h1M403 474.5h1M404 473.5h1M405 472.5h2M407 471.5h1M408 470.5h1M409 469.5h2M411 468.5h1M412 467.5h1M413 466.5h1M414 465.5h2M416 464.5h1M417 463.5h1M418 462.5h2M420 461.5h1M421 460.5h1M422 459.5h2M424 458.5h1M425 457.5h1M426 456.5h2M428 455.5h1M429 454.5h1M430 453.5h2M432 452.5h1M433 451.5h1M434 450.5h2M436 449.5h1M437 448.5h1M438 447.5h2M440 446.5h1M441 445.5h1M442 444.5h2M444 443.5h1M445 442.5h1M446 441.5h2M448 440.5h1M449 439.5h1M450 438.5h2M452 437.5h1M453 436.5h1M454 435.5h2M456 434.5h1M457 433.5h1M458 432.5h2M460 431.5h1M461 430.5h2M463 429.5h1M464 428.5h1M465 427.5h2M301 554.5h7M304.5 551v7M313 553.5h7M316.5 550v7M325 550.5h7M328.5 547v7M337 545.5h7M340.5 542v7M349 537.5h7M352.5 534v7M364.5 525v3M363 525.5h3M363 527.5h3M361 526.5h7M364.5 523v7M376.5 509v7M375 509.5h3M375 515.5h3M373 512.5h7M376.5 509v7M388.5 482v12M387 482.5h3M387 493.5h3M385 488.5h7M388.5 485v7M400.5 459v17M399 459.5h3M399 475.5h3M397 467.5h7M400.5 464v7M412.5 433v20M411 433.5h3M411 452.5h3M409 442.5h7M412.5 439v7"/>
<path stroke="#0000ff" d="M293 556.5h6M299 555.5h5M304 554.5h2M306 553.5h1M307 552.5h1M308 551.5h1M309 550.5h1M310 549.5h1M311 548.5h2M313 547.5h1M314 546.5h1M315 545.5h1M316 544.5h1M317 543.5h1M318 542.5h2M320 541.5h1M321 540.5h2M323 539.5h1M324 538.5h2M326 537.5h1M327 536.5h1M328 535.5h2M330 534.5h1M331 533.5h1M332 532.5h1M333 531.5h1M334 530.5h2M336 529.5h1M337 528.5h1M338 527.5h1M339 526.5h1M340 525.5h1M341 524.5h1M342 523.5h1M343 522.5h1M344 521.5h2M346 520.5h1M347 519.5h1M348 518.5h1M349 517.5h1M350 516.5h1M351 515.5h1M352 514.5h1M353 513.5h1M354 512.5h1M355 511.5h2M357 510.5h1M358 509.5h1M359 508.5h1M360 507.5h1M361 506.5h1M362 505.5h2M364 504.5h1M365 503.5h1M366 502.5h1M367 501.5h1M368 500.5h1M369 499.5h2M371 498.5h1M372 497.5h1M373 496.5h1M374 495.5h1M375 494.5h1M376 493.5h2M378 492.5h1M379 491.5h1M380 490.5h1M381 489.5h1M382 488.5h2M384 487.5h1M385 486.5h1M386 485.5h1M387 484.5h2M389 483.5h1M390 482.5h1M391 481.5h1M392 480.5h1M393 479.5h2M395 478.5h1M396 477.5h1M397 476.5h1M398 475.5h2M400 474.5h1M401 473.5h1M402 472.5h1M403 471.5h2M405 470.5h1M406 469.5h1M407 468.5h1M408 467.5h2M410 466.5h1M411 465.5h1M412 464.5h1M413 463.5h2M415 462.5h1M416 461.5h1M417 460.5h2M419 459.5h1M420 458.5h1M421 457.5h1M422 456.5h2M424 455.5h1M425 454.5h1M426 453.5h2M428 452.5h1M429 451.5h1M430 450.5h2M432 449.5h1M433 448.5h1M434 447.5h1M435 446.5h2M437 445.5h1M438 444.5h2M440 443.5h1M441 442.5h1M442 441.5h1M443 440.5h2M445 439.5h1M446 438.5h2M448 437.5h1M449 436.5h1M450 435.5h2M452 434.5h1M453 433.5h1M454 432.5h2M456 431.5h1M457 430.5h1M458 429.5h2M460 428.5h1M461 427.5h2M301 554.5h7M304.5 551v7M313 553.5h7M316.5 550v7M325 550.5h7M328.5 547v7M337 544.5h7M340.5 541v7M349 536.5h7M352.5 533v7M364.5 523v4M363 523.5h3M363 526.5h3M361 524.5h7M364.5 521v7M376.5 507v7M375 507.5h3M375 513.5h3M373 510.5h7M376.5 507v7M388.5 477v17M387 477.5h3M387 493.5h3M385 485.5h7M388.5 482v7M400.5 454v21M399 454.5h3M399 474.5h3M397 464.5h7M400.5 461v7M412.5 428v24M411 428.5h3M411 451.5h3M409 440.5h7M412.5 437v7"/>
<path stroke="#ff00ff" d="M293.5 549v2M294 548.5h1M295 547.5h1M296.5 545v2M297 544.5h1M298 543.5h1M299.5 541v2M300 540.5h1M301.5 538v2M302 537.5h1M303.5 535v2M304 534.5h1M305 533.5h1M306.5 531v2M307 530.5h1M308.5 528v2M309.5 526v2M310 525.5h1M311.5 523v2M312 522.5h1M313.5 520v2M314 519.5h1M315.5 517v2M316.5 515v2M317 514.5h1M318.5 512v2M319 511.5h1M320.5 509v2M321.5 507v2M322 506.5h1M323.5 504v2M324.5 502v2M325.5 500v2M326 499.5h1M327.5 497v2M328.5 495v2M329 494.5h1M330.5 492v2M331.5 490v2M332.5 488v2M333 487.5h1M334.5 485v2M335.5 483v2M336.5 481v2M337 480.5h1M338.5 478v2M339.5 476v2M340.5 474v2M341 473.5h1M342.5 471v2M343.5 469v2M344.5 467v2M345 466.5h1M346.5 464v2M347.5 462v2M348.5 460v2M349.5 458v2M350 457.5h1M351.5 455v2M352.5 453v2M353.5 451v2M354 450.5h1M355.5 448v2M356.5 446v2M357.5 444v2M358 443.5h1M359.5 441v2M360.5 439v2M361 438.5h1M362.5 436v2M363.5 434v2M364.5 432v2M365 431.5h1M366.5 429v2M367.5 427v2M295.5 549v3M294 549.5h2M294 551.5h2M292 550.5h7M295.5 547v7M297.5 547v5M297 547.5h2M297 551.5h2M294 549.5h7M297.5 546v7M300.5 544v6M299 544.5h2M299 549.5h2M297 546.5h7M300.5 543v7M302.5 541v7M302 541.5h2M302 547.5h2M299 544.5h7M302.5 541v7M304.5 539v6M304 539.5h2M304 544.5h2M301 541.5h7M304.5 538v7M307.5 535v9M306 535.5h2M306 543.5h2M304 539.5h7M307.5 536v7M309.5 506v48M309 506.5h2M309 553.5h2M306 529.5h7M309.5 526v7M312.5 506v48M311 506.5h2M311 553.5h2M309 529.5h7M312.5 526v7M314.5 506v48M314 506.5h1M314 553.5h1M311 529.5h7M314.5 526v7M316.5 499v48M316 499.5h2M316 546.5h2M313 523.5h7M316.5 520v7M319.5 490v48M318 490.5h2M318 537.5h2M316 514.5h7M319.5 511v7M321.5 487v54M321 487.5h2M321 540.5h2M318 514.5h7M321.5 511v7M324.5 475v68M323 475.5h2M323 542.5h2M321 510.5h7M324.5 507v7M326.5 471v69M325 471.5h2M325 539.5h2M323 505.5h7M326.5 502v7M328.5 464v74M328 464.5h2M328 537.5h2M325 501.5h7M328.5 498v7M331.5 464v74M330 464.5h2M330 537.5h2M328 501.5h7M331.5 498v7M333.5 451v79M333 451.5h2M333 529.5h2M330 490.5h7M333.5 487v7M335.5 443v80M335 443.5h2M335 522.5h2M332 482.5h7M335.5 479v7M338.5 427v80M337 506.5h2M335 464.5h7M338.5 461v7M340.5 427v73M340 499.5h2M337 453.5h7M340.5 450v7M343.5 427v64M342 490.5h2M340 438.5h7M343.5 435v7"/>
<path stroke="#000" d="M293 427.5h316M293 556.5h316M293.5 427v130M608.5 427v130"/>
</g>
<path stroke="#000" d="M652 425.5h204M652 553.5h204M652.5 425v129M855.5 425v129"/>
<path stroke="#ff0000" d="M679 438.5h7M682.5 435v7"/>
<text x="708.9" y="444.0" textLength="112.8" lengthAdjust="spacingAndGlyphs">Vector 1: Golshani 2008</text>
<path stroke="#ffff00" d="M679 458.5h7M682.5 455v7"/>
<text x="708.9" y="464.0" textLength="112.8" lengthAdjust="spacingAndGlyphs">Vector 2: Golshani 2008</text>
<path stroke="#00ff00" d="M679 478.5h7M682.5 475v7"/>
<text x="708.9" y="484.0" textLength="104.4" lengthAdjust="spacingAndGlyphs">Control: Kamada 2007</text>
<path stroke="#00ffff" d="M679 499.5h7M682.5 496v7"/>
<text x="708.9" y="505.0" textLength="116" lengthAdjust="spacingAndGlyphs">AS clusterin: Miyake 2001</text>
<path stroke="#0000ff" d="M679 519.5h7M682.5 516v7"/>
<text x="708.9" y="525.0" textLength="115" lengthAdjust="spacingAndGlyphs">MM control: Miyake 2001</text>
<path stroke="#ff00ff" d="M679 540.5h7M682.5 537v7"/>
<text x="708.9" y="546.0" textLength="65.4" lengthAdjust="spacingAndGlyphs">PBS: Du 2003</text>
</svg>
</body></html>
